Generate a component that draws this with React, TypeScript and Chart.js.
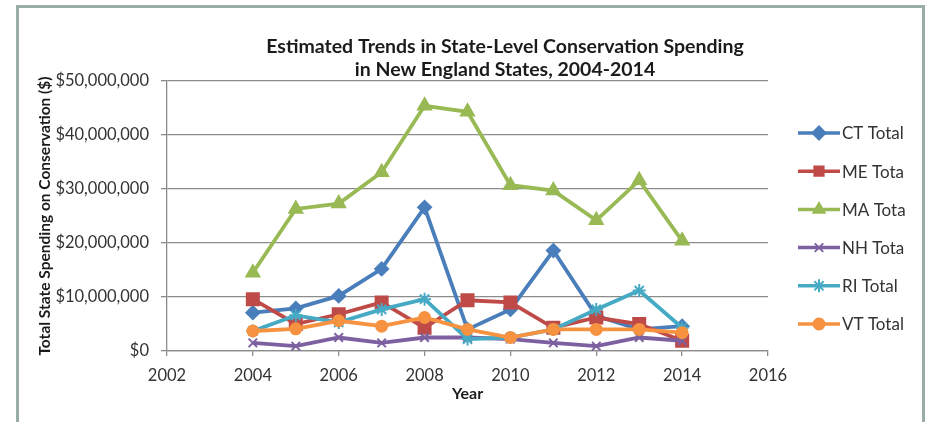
import React, { useEffect, useRef } from 'react';
import { Chart, registerables } from 'chart.js';
import { drawPoint } from 'chart.js/helpers';

Chart.register(...registerables);

const titleLines = [
  'Estimated Trends in State-Level Conservation Spending',
  'in New England States, 2004-2014',
];
const yAxisTitle = 'Total State Spending on Conservation ($)';
const xAxisTitle = 'Year';

const years = [2004, 2005, 2006, 2007, 2008, 2009, 2010, 2011, 2012, 2013, 2014];
const seriesNames = ['CT Total', 'ME Total', 'MA Total', 'NH Total', 'RI Total', 'VT Total'];

const ctTotal = [7100000, 7900000, 10200000, 15200000, 26600000, 4000000, 7700000, 18600000, 6500000, 4000000, 4600000];
const meTotal = [9600000, 5000000, 6800000, 9000000, 4300000, 9400000, 9000000, 4300000, 6200000, 5000000, 1900000];
const maTotal = [14500000, 26300000, 27300000, 33100000, 45400000, 44300000, 30700000, 29700000, 24200000, 31600000, 20400000];
const nhTotal = [1500000, 900000, 2500000, 1500000, 2500000, 2500000, 2200000, 1500000, 900000, 2500000, 1900000];
const riTotal = [3700000, 6600000, 5300000, 7700000, 9600000, 2200000, 2500000, 4000000, 7700000, 11200000, 4300000];
const vtTotal = [3700000, 4100000, 5600000, 4600000, 6200000, 4000000, 2500000, 4000000, 4000000, 4000000, 3400000];

const xTicks = [2002, 2004, 2006, 2008, 2010, 2012, 2014, 2016];
const yTicks = [0, 10000000, 20000000, 30000000, 40000000, 50000000];

const seriesValues = [ctTotal, meTotal, maTotal, nhTotal, riTotal, vtTotal];
const seriesColors = ['#4A7EBB', '#BE4B48', '#98B954', '#7D60A0', '#46AAC5', '#F69240'];
const seriesMarkers = ['rectRot', 'rect', 'triangle', 'crossRot', 'star', 'circle'];
const markerSizes = [6.5, 8.5, 7.5, 6, 6.5, 5.5];

const FONT = 'Lato, "Open Sans", sans-serif';
const TEXT = '#333333';
const GRID = '#8c8c8c';

const CANVAS_W = 886;
const CANVAS_H = 414;

const overlayPlugin = {
  id: 'overlay',
  afterDraw(chart: any) {
    const ctx = chart.ctx;
    ctx.save();
    ctx.fillStyle = '#1b1b1b';
    ctx.font = `bold 19.5px ${FONT}`;
    ctx.textAlign = 'center';
    ctx.textBaseline = 'middle';
    titleLines.forEach((t, i) => ctx.fillText(t, 486, 39 + i * 23));

    chart.data.datasets.forEach((ds: any, i: number) => {
      const y = 125 + i * 38.2;
      ctx.strokeStyle = ds.borderColor;
      ctx.lineWidth = 3.5;
      ctx.beginPath();
      ctx.moveTo(779, y);
      ctx.lineTo(821, y);
      ctx.stroke();
      ctx.fillStyle = ds.pointBackgroundColor;
      ctx.strokeStyle = ds.pointBorderColor;
      ctx.lineWidth = 2;
      drawPoint(ctx, { pointStyle: ds.pointStyle, radius: Math.min(ds.pointRadius, 6.5), borderWidth: 2, rotation: 0 }, 800, y);
      ctx.fillStyle = TEXT;
      ctx.font = `17px ${FONT}`;
      ctx.textAlign = 'left';
      ctx.textBaseline = 'middle';
      ctx.fillText(ds.label, 823, y + 1);
    });
    ctx.restore();
  },
};

export default function App() {
  const ref = useRef<HTMLCanvasElement>(null);

  useEffect(() => {
    if (!ref.current) return;
    const chart = new Chart(ref.current, {
      type: 'line',
      data: {
        datasets: seriesNames.map((name, i) => ({
          label: name,
          data: years.map((yr, j) => ({ x: yr, y: seriesValues[i][j] })),
          borderColor: seriesColors[i],
          backgroundColor: seriesColors[i],
          pointBackgroundColor: seriesColors[i],
          pointBorderColor: seriesColors[i],
          pointStyle: seriesMarkers[i],
          pointRadius: markerSizes[i],
          pointBorderWidth: 2,
          borderWidth: 3.8,
          tension: 0,
          fill: false,
          order: seriesNames.length - i,
        })),
      },
      options: {
        responsive: false,
        animation: false,
        devicePixelRatio: 1,
        layout: { padding: { left: 0, right: CANVAS_W - 749, top: 73, bottom: 0 } },
        plugins: {
          legend: { display: false },
          title: { display: false },
          tooltip: { enabled: false },
        },
        scales: {
          x: {
            type: 'linear',
            min: xTicks[0],
            max: xTicks[xTicks.length - 1],
            afterBuildTicks: (axis: any) => {
              axis.ticks = xTicks.map((v) => ({ value: v }));
            },
            afterFit: (axis: any) => {
              axis.height = CANVAS_H - 343;
            },
            ticks: {
              color: TEXT,
              font: { family: FONT, size: 16.5 },
              padding: 10,
              maxRotation: 0,
              autoSkip: false,
              callback: (v: any) => String(v),
            },
            grid: { display: true, drawOnChartArea: false, drawTicks: true, tickLength: 5, color: GRID, lineWidth: 1.3 },
            border: { display: true, color: GRID, width: 1.3 },
            title: {
              display: true,
              text: xAxisTitle,
              color: '#1b1b1b',
              font: { family: FONT, size: 16, weight: 'bold' },
              padding: { top: 0, bottom: 19 },
            },
          },
          y: {
            type: 'linear',
            min: yTicks[0],
            max: yTicks[yTicks.length - 1],
            afterBuildTicks: (axis: any) => {
              axis.ticks = yTicks.map((v) => ({ value: v }));
            },
            afterFit: (axis: any) => {
              axis.width = 148;
            },
            ticks: {
              color: TEXT,
              font: { family: FONT, size: 16.5 },
              padding: 12,
              callback: (v: any) => '$' + Number(v).toLocaleString('en-US'),
            },
            grid: { display: true, drawTicks: true, tickLength: 6, color: GRID, lineWidth: 1.3 },
            border: { display: true, color: GRID, width: 1.3 },
            title: {
              display: true,
              text: yAxisTitle,
              color: '#1b1b1b',
              font: { family: FONT, size: 15.5, weight: 'bold' },
              padding: { top: 16.5, bottom: 0 },
            },
          },
        },
      },
      plugins: [overlayPlugin],
    } as any);
    return () => chart.destroy();
  }, []);

  return (
    <div style={{ position: 'absolute', left: 0, top: 0, width: 928, height: 422, overflow: 'hidden', background: '#ffffff' }}>
      <div
        style={{
          position: 'absolute',
          left: 16,
          top: 5,
          width: 909,
          height: 500,
          border: '3px solid #9aaea5',
          boxSizing: 'border-box',
        }}
      />
      <canvas
        ref={ref}
        width={CANVAS_W}
        height={CANVAS_H}
        style={{ position: 'absolute', left: 19, top: 8, width: CANVAS_W, height: CANVAS_H }}
      />
    </div>
  );
}
